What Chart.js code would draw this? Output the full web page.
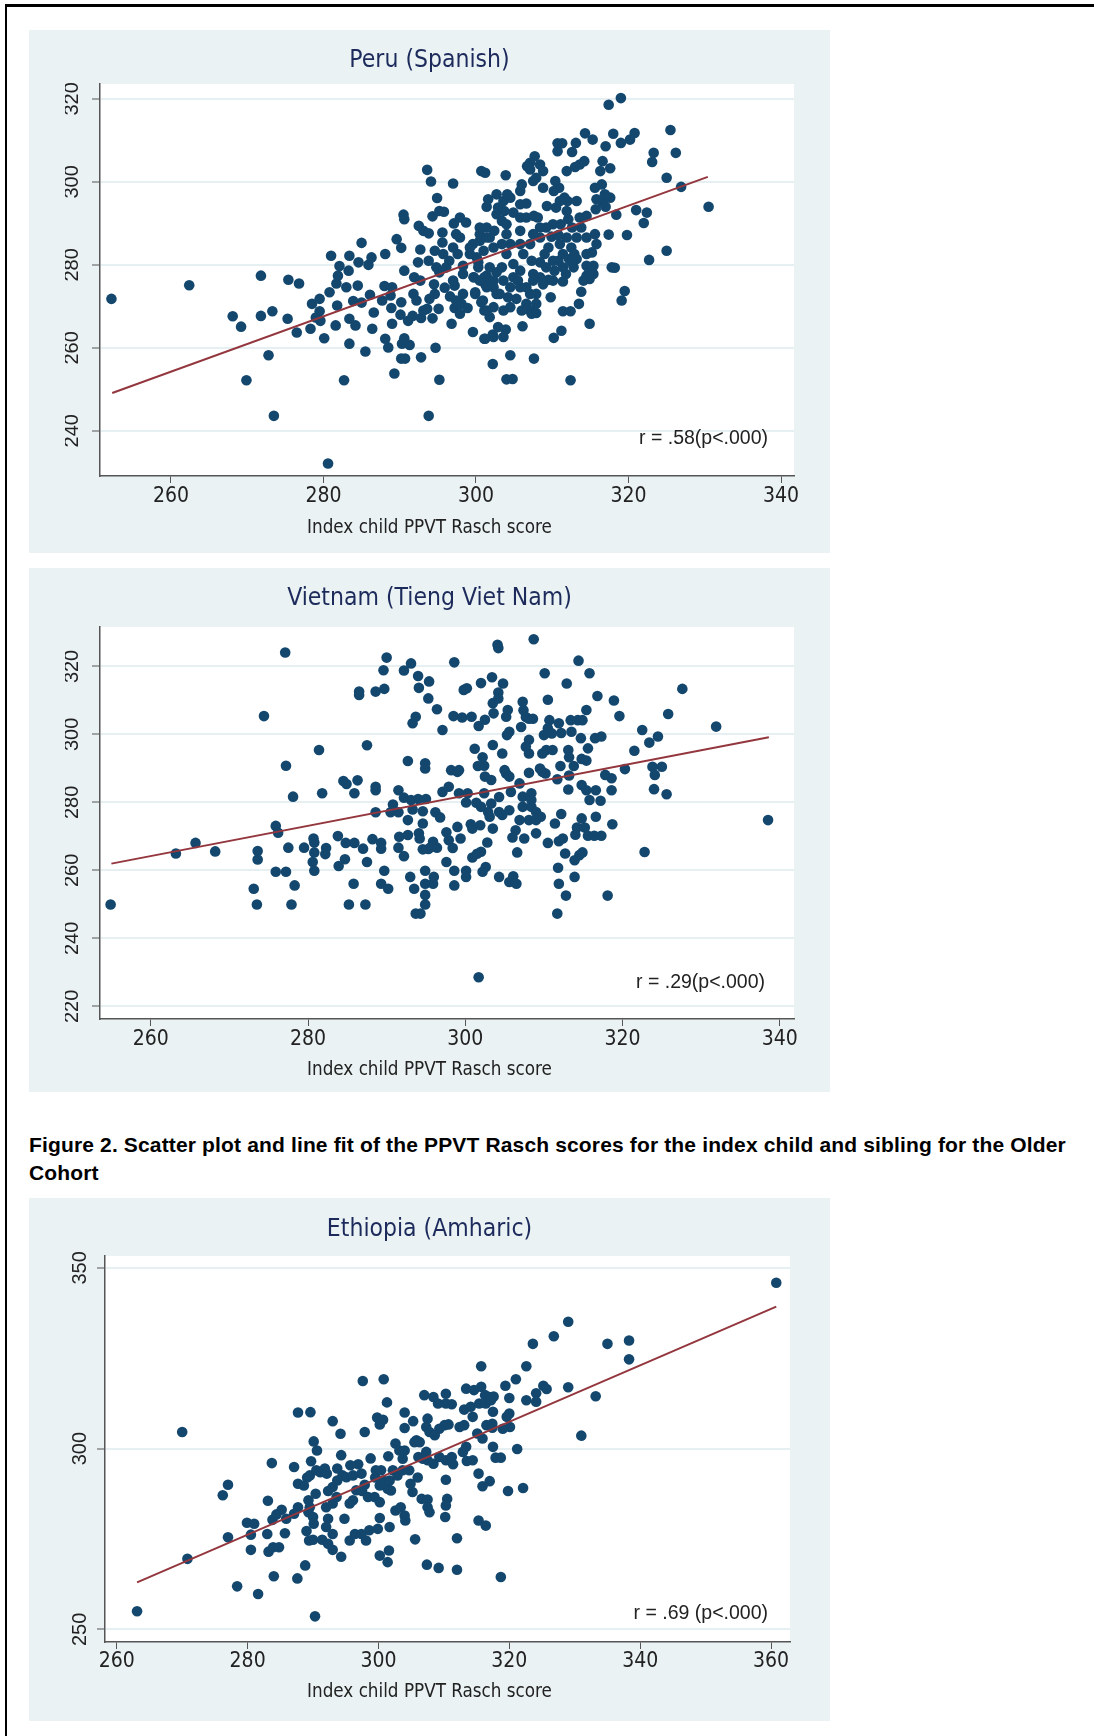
<!DOCTYPE html>
<html>
<head>
<meta charset="utf-8">
<script src="https://cdn.jsdelivr.net/npm/chart.js@4.4.1/dist/chart.umd.min.js"></script>
<style>
  html, body { margin: 0; padding: 0; background: #fff; }
  body { width: 1094px; height: 1736px; position: relative; overflow: hidden; }
  .rule-top { position: absolute; left: 5px; top: 4px; width: 1089px; height: 3px; background: #000; }
  .rule-left { position: absolute; left: 5px; top: 4px; width: 2px; height: 1732px; background: #000; }
  .panel { position: absolute; left: 29px; width: 801px; background: #eaf2f3; }
  .caption { position: absolute; left: 29px; top: 1131px; font: bold 21px/28px "Liberation Sans", Arial, sans-serif; letter-spacing: 0.15px; color: #000; white-space: nowrap; }
</style>
</head>
<body>
<div class="rule-top"></div>
<div class="rule-left"></div>
<div class="panel" style="top:30px;height:523px"><canvas id="peru"></canvas></div>
<div class="panel" style="top:568px;height:524px"><canvas id="vietnam"></canvas></div>
<div class="caption">Figure 2. Scatter plot and line fit of the PPVT Rasch scores for the index child and sibling for the Older<br>Cohort</div>
<div class="panel" style="top:1198px;height:523px"><canvas id="ethiopia"></canvas></div>
<script>
// [index child score, sibling score]
const peruPoints = [
  [252.2,271.8],[262.4,275.1],[271.8,277.4],[275.4,276.4],[276.8,275.5],[268.1,267.6],[269.2,265.1],[271.8,267.7],[273.3,268.8],[275.3,267.0],
  [276.5,263.7],[272.8,258.2],[269.9,252.2],[273.5,243.6],[280.6,232.1],[282.7,252.2],[280.1,262.3],[278.3,264.6],[278.5,270.6],[279.5,271.8],
  [279.5,268.8],[279.0,267.3],[279.6,266.5],[280.8,273.4],[281.0,282.2],[281.8,270.2],[281.6,265.4],[281.7,275.5],[281.9,277.4],[282.1,279.7],
  [283.0,274.6],[283.3,278.6],[283.4,282.2],[283.4,267.0],[283.4,261.0],[284.2,265.4],[284.5,275.0],[283.9,271.3],[284.6,280.6],[285.0,285.3],
  [285.0,270.9],[285.5,259.1],[285.9,280.0],[286.3,281.8],[286.1,272.8],[286.6,268.5],[286.4,264.6],[288.1,282.6],[287.7,271.4],[288.0,274.9],
  [288.8,272.6],[288.9,269.6],[289.0,274.6],[289.0,265.8],[288.1,262.2],[288.5,260.1],[289.3,253.8],[289.6,286.2],[290.2,284.1],[290.5,292.1],
  [290.6,291.0],[290.6,278.6],[290.2,271.0],[290.1,268.0],[290.3,261.0],[290.2,257.4],[290.7,257.4],[290.6,262.3],[291.3,260.7],[291.1,266.5],
  [291.7,267.7],[291.8,273.0],[291.9,277.0],[292.2,271.4],[292.4,280.6],[292.5,289.4],[292.7,283.7],[292.7,276.2],[293.1,288.2],[292.8,257.7],
  [292.8,267.2],[293.1,269.0],[293.6,269.4],[293.6,302.9],[294.1,300.1],[293.8,243.6],[293.9,271.8],[293.8,281.0],[293.8,287.6],[294.3,291.7],
  [294.6,283.4],[294.3,267.1],[294.7,260.0],[294.9,296.1],[295.2,293.0],[295.2,252.3],[295.1,269.4],[294.5,275.3],[295.2,278.2],[295.8,292.8],
  [295.6,287.8],[295.6,285.4],[295.9,274.5],[296.6,272.4],[296.8,265.8],[297.0,299.6],[297.1,290.0],[297.2,275.0],[297.2,269.6],[296.5,281.0],
  [297.4,287.4],[297.0,284.2],[297.6,282.6],[297.9,291.4],[298.1,270.6],[298.7,290.2],[298.3,277.8],[298.9,269.6],[299.6,263.8],[299.6,285.0],
  [299.7,277.0],[299.9,273.4],[300.3,280.6],[300.5,289.0],[300.7,302.6],[301.2,302.2],[300.9,271.4],[301.1,262.2],[301.4,294.0],[301.6,295.8],
  [301.1,269.0],[302.2,256.1],[302.2,263.2],[301.8,267.4],[301.1,277.0],[302.4,288.2],[300.5,287.4],[301.4,289.0],[301.8,286.6],[302.3,284.2],
  [300.1,281.8],[301.0,283.4],[300.3,279.4],[301.4,277.4],[302.7,278.2],[301.2,275.4],[302.3,274.6],[299.9,273.0],[300.7,271.0],[301.4,269.0],
  [302.3,269.8],[302.9,265.0],[301.2,262.2],[302.3,262.6],[299.7,277.0],[299.2,284.2],[297.9,286.6],[297.0,276.2],[294.6,273.0],[298.3,273.0],
  [297.4,271.4],[297.9,268.2],[294.8,279.4],[295.7,282.6],[296.1,279.4],[298.3,279.8],[299.2,282.6],[300.5,285.8],[301.4,286.6],[302.7,292.2],
  [302.9,293.8],[302.7,297.0],[301.8,279.4],[302.3,276.2],[301.4,274.6],[302.7,273.0],[300.5,276.2],
  [317.4,318.6],[319.0,320.2],[314.3,311.7],[315.3,310.2],[318.0,311.6],[319.0,309.4],[320.2,310.2],[320.8,311.8],[325.5,312.5],[323.3,307.0],
  [323.1,304.8],[326.2,307.0],[325.0,301.0],[326.9,298.8],[330.5,294.0],[321.0,293.2],[322.4,292.6],[322.0,290.1],[319.8,287.2],[317.4,287.3],
  [325.0,283.4],[322.7,281.2],[317.8,279.4],[318.2,279.3],[319.5,273.7],[319.1,271.4],[314.9,265.8],[313.8,273.5],[312.4,252.2],[311.2,264.1],
  [310.2,262.4],[307.6,257.4],[304.5,258.2],[304.0,252.4],[304.8,252.5],[306.1,265.2],[303.6,262.6],[303.9,264.4],[304.2,272.2],[303.6,269.0],
  [307.9,273.0],[309.8,272.2],[307.1,269.0],[307.9,268.4],[306.6,270.6],[311.4,268.8],[312.4,268.8],[313.5,270.6],[314.5,277.4],[314.9,276.6],
  [315.4,279.8],[311.4,276.0],[311.8,277.8],[312.8,279.4],[312.2,281.4],[313.2,281.4],[310.3,278.6],[309.5,276.4],[308.4,277.0],[307.5,277.8],
  [306.6,274.6],[305.8,278.6],[304.9,280.2],[304.0,282.6],[306.2,282.6],[307.1,285.0],[305.8,285.0],[304.5,285.0],[308.4,286.6],[309.5,284.2],
  [311.0,285.0],[311.9,286.6],[312.5,284.2],[313.2,286.6],[314.5,286.6],[315.6,287.4],[315.8,285.0],[315.2,283.0],[313.8,289.0],[314.5,291.8],
  [312.6,289.0],[311.1,289.8],[310.1,289.8],[309.2,289.0],[308.1,291.4],[309.3,294.2],[310.5,293.8],[312.0,295.4],[313.2,295.4],[311.6,296.2],
  [310.9,298.6],[310.4,300.2],[310.2,297.8],[311.9,302.6],[313.0,303.6],[313.6,304.2],[314.2,305.0],[315.6,298.6],[315.8,295.8],[316.6,295.0],
  [317.6,296.2],[316.9,297.0],[316.5,299.4],[316.6,305.0],[317.6,303.3],[316.3,302.6],[317.0,308.6],[315.7,293.4],[318.4,292.1],[317.0,294.0],
  [310.7,309.3],[311.3,309.3],[312.6,307.2],[313.1,309.4],[310.7,307.4],[307.7,306.2],[307.1,304.6],[308.4,304.2],[308.8,302.6],[307.9,301.0],
  [307.5,300.2],[308.8,298.6],[306.0,299.4],[305.8,297.8],[307.1,303.0],[306.7,303.8],[303.9,301.6],[303.6,295.4],[304.5,296.2],[303.7,293.0],
  [304.9,292.6],[305.8,294.6],[306.6,294.8],[304.1,297.0],[303.4,290.6],[304.0,289.8],[305.8,291.4],[306.6,291.4],[307.6,291.8],[308.4,289.0],
  [307.5,287.4],[305.8,288.2],[304.0,287.4],[303.4,285.0],[313.6,291.4],[312.1,291.0],[309.0,282.6],[310.1,281.0],[308.4,280.6],[307.3,281.0],
  [303.4,279.4],[303.6,276.2],[304.9,277.0],[304.5,274.6],[303.1,273.0],[305.8,274.6],[305.5,276.2],[307.5,276.2],[307.1,273.0],[305.3,271.8],
  [304.5,269.8],[306.0,269.0],[308.8,275.3],[310.1,276.2],[315.4,277.8],[314.5,282.6],[314.5,279.8],[314.1,276.2],[314.9,278.6],[307.3,268.2],
  [307.9,270.6],[309.2,279.4],[311.4,279.4],[310.8,281.0],[312.5,280.6],[311.4,282.6],[312.9,282.6],[309.9,286.8],[310.8,287.2],[311.0,295.4],
  [311.9,293.0]
];
const peruFit = [[252.3, 249.1], [330.4, 301.2]];
const peruXTicks = [260, 280, 300, 320, 340];
const peruYTicks = [240, 260, 280, 300, 320];

const vietnamPoints = [
  [254.9,250.0],[263.2,265.0],[265.7,268.1],[268.2,265.6],[274.4,305.4],[277.1,324.1],[273.6,265.7],[273.6,263.2],[273.1,254.6],[273.5,250.0],
  [275.9,273.1],[276.2,271.1],[275.9,259.6],[277.2,259.6],[277.5,266.7],[277.2,290.8],[278.1,281.7],[278.3,255.6],[277.9,250.0],[279.5,266.7],
  [280.7,269.4],[280.8,268.2],[280.8,265.3],[280.6,262.5],[280.8,259.9],[281.4,295.4],[281.8,282.7],[282.3,266.6],[282.2,264.8],[283.8,270.1],
  [283.9,261.3],[284.5,286.3],[284.9,285.4],[284.7,263.3],[284.8,268.1],[285.9,268.1],[286.3,286.5],[285.9,282.7],[285.8,256.1],[285.2,250.0],
  [286.5,312.6],[286.5,311.6],[287.5,296.8],[287.0,266.4],[287.5,262.5],[287.3,250.0],[288.2,269.2],[288.6,312.6],[288.6,284.6],[288.6,283.6],
  [288.6,277.1],[289.3,268.1],[289.3,266.4],[289.7,259.9],[289.3,256.1],[290.2,254.6],[289.7,313.4],[289.6,318.9],[290.0,322.6],[290.5,277.1],
  [290.8,279.4],[291.5,283.6],[291.5,277.1],[291.6,269.9],[291.5,266.7],[292.2,318.8],[293.1,320.9],[292.2,281.4],[292.7,274.8],[292.7,270.4],
  [292.7,292.2],[292.2,264.2],[293.1,280.7],[293.3,277.9],[293.0,258.1],[293.5,254.6],[293.7,247.3],[294.3,247.3],[293.3,303.3],[293.7,305.2],
  [294.0,317.2],[294.1,313.7],[294.6,277.4],[294.6,273.8],[294.1,270.9],[294.2,269.4],[294.9,291.5],[294.9,290.0],[294.0,281.0],[295.0,281.0],
  [294.9,259.9],[294.9,256.1],[294.9,252.8],[294.9,250.0],[295.4,315.6],[295.3,310.6],[295.3,266.3],[295.9,268.4],[295.9,256.1],[296.0,258.1],
  [296.4,266.7],[296.2,277.1],[296.8,275.6],[296.4,307.4],[297.1,301.3],[297.1,283.1],[297.6,271.2],[297.9,268.9],[297.6,262.5],[297.9,284.6],
  [298.2,289.5],[298.5,305.4],[298.6,321.2],[298.6,259.9],[298.6,255.6],[298.4,266.6],[299.0,289.0],[299.2,289.5],[299.0,272.8],[299.4,269.4],
  [299.2,282.7],[299.6,305.0],[299.8,313.1],[300.2,313.6],[300.1,280.0],[300.1,259.9],[300.1,258.1],[300.3,282.7],[300.7,273.6],[300.9,272.3],
  [300.8,305.2],[301.2,295.8],[300.9,263.8],[301.7,302.5],[301.6,290.7],[301.4,279.9],[302.0,315.1],[302.0,265.5],[302.2,293.3],[302.4,290.8],
  [302.5,304.3],[302.8,268.2],[302.6,261.0],[302.2,259.6],[302.5,287.6],[302.4,282.7],[301.9,273.3],[303.4,316.8],[303.5,309.2],[302.9,277.2],
  [303.5,296.9],[303.3,286.6],[303.3,279.7],[303.1,275.8],[303.5,272.3],[304.1,326.4],[304.2,325.4],[301.7,228.6],[302.0,278.7],[295.6,266.8],
  [294.6,266.2],[301.5,264.9],[303.6,306.2],[304.2,312.3],[304.2,310.6],
  [308.7,328.0],[314.4,321.7],[315.8,318.0],[310.1,318.0],[312.9,315.0],[316.8,311.3],[318.9,310.0],[319.6,305.4],[327.6,313.4],[325.8,306.0],
  [331.9,302.3],[322.5,301.3],[323.4,297.6],[324.5,299.4],[321.5,295.2],[320.3,289.8],[323.8,290.5],[325.0,290.5],[324.1,288.1],[324.0,283.9],
  [325.6,282.4],[338.5,274.8],[322.8,265.4],[318.1,252.6],[311.7,247.3],[312.8,252.6],[311.9,256.1],[311.8,260.8],[313.9,258.1],[312.7,265.0],
  [313.9,263.0],[314.5,264.5],[314.9,265.3],[310.5,268.1],[311.9,268.6],[312.4,269.4],[314.0,270.5],[315.6,270.2],[316.4,270.2],[317.3,270.2],
  [318.7,273.6],[316.6,275.8],[314.8,275.3],[314.2,272.6],[315.2,272.6],[312.2,276.6],[311.4,273.8],[317.2,280.5],[315.8,280.7],[315.4,283.6],
  [316.6,283.6],[318.6,283.6],[318.6,287.1],[317.8,288.1],[314.8,285.1],[313.1,283.8],[313.2,287.9],[313.8,290.7],[312.1,290.7],[311.7,286.8],
  [314.8,292.8],[315.4,292.3],[313.1,295.4],[313.2,293.3],[315.6,295.9],[314.7,298.9],[316.5,298.9],[317.3,299.4],[313.5,300.8],[313.4,304.2],
  [314.3,304.2],[314.9,304.2],[315.4,307.2],[310.5,310.2],[311.9,303.3],[312.2,300.4],[310.7,304.2],[310.5,301.8],[310.0,299.8],[311.0,300.3],
  [310.3,295.4],[311.1,295.4],[309.8,294.4],[309.8,289.0],[310.2,288.5],[309.5,290.0],[308.1,288.7],[306.9,285.6],[305.6,287.6],[305.2,288.5],
  [305.0,289.5],[305.8,283.1],[307.3,281.7],[308.4,282.7],[308.4,280.7],[308.4,278.7],[309.0,277.2],[309.6,275.8],[308.1,274.8],[309.0,274.8],
  [306.9,274.8],[307.3,278.7],[305.6,277.7],[304.7,276.3],[304.3,277.2],[304.3,281.6],[306.4,271.8],[306.0,269.7],[307.5,269.4],[309.0,270.9],
  [306.6,265.3],[305.6,256.6],[306.5,256.1],[306.1,258.3],[304.3,258.1],[307.3,309.6],[307.4,307.1],[307.7,305.1],[308.1,304.6],[308.6,304.6],
  [307.1,302.2],[308.1,298.4],[307.7,296.4],[308.1,294.4],[305.4,307.2],[305.2,305.2],[305.6,300.8],[305.3,299.8],[304.7,294.4],[304.8,315.0]
];
const vietnamFit = [[255.0, 262.0], [338.6, 299.2]];
const vietnamXTicks = [260, 280, 300, 320, 340];
const vietnamYTicks = [220, 240, 260, 280, 300, 320];

const ethiopiaPoints = [
  [263.1,255.0],[270.0,304.6],[270.8,269.5],[276.2,287.1],[277.0,290.0],[277.0,275.5],[278.4,261.9],[281.6,259.8],[279.9,279.5],[281.0,279.2],
  [280.5,276.2],[280.5,272.0],[283.1,285.6],[283.7,296.0],[283.0,276.4],[283.2,271.5],[283.9,272.7],[284.8,272.7],[284.0,264.7],[283.8,280.3],
  [284.4,281.8],[285.2,283.1],[285.7,276.6],[285.9,280.6],[287.1,294.9],[287.7,310.0],[289.6,310.1],[287.6,264.1],[288.8,267.7],[287.7,283.8],
  [287.1,282.0],[287.7,290.3],[288.6,289.8],[289.1,292.0],[289.5,292.6],[289.7,296.5],[290.1,302.0],[290.6,299.5],[289.3,285.7],[289.5,283.8],
  [289.3,282.4],[290.0,281.1],[290.1,279.2],[289.0,277.2],[289.4,274.6],[290.0,274.8],[290.3,253.6],[290.5,294.0],[291.1,293.5],[291.8,294.5],
  [292.1,293.1],[290.4,287.5],[291.4,274.8],[292.3,273.7],[293.0,272.0],[294.3,270.1],[293.0,307.6],[294.2,304.1],[294.3,298.2],[293.7,294.5],
  [292.3,288.3],[293.0,289.4],[293.7,291.2],[294.5,292.6],[292.0,283.8],[292.3,280.6],[292.0,278.3],[293.0,276.4],[293.0,284.8],[293.6,286.6],
  [294.8,280.6],[295.6,284.8],[296.1,285.7],[295.6,274.6],[295.7,295.4],[296.9,295.7],[295.1,292.1],[296.1,292.6],[297.4,293.1],[297.9,290.0],
  [296.6,288.5],[297.5,288.3],[296.4,276.4],[297.4,276.4],[298.1,274.6],[297.6,318.7],[297.9,304.6],[298.8,297.3],[298.4,286.6],[299.4,286.6],
  [300.2,285.2],[298.6,277.4],[299.9,277.8],[299.5,292.0],[300.2,289.8],[300.4,294.0],[299.6,294.0],[300.8,319.2],[301.3,312.8],[299.8,308.6],
  [300.7,308.0],[300.2,306.7],[301.5,297.9],[300.2,280.8],[301.7,278.3],[301.4,288.9],[300.7,291.2],[301.7,291.2],[301.9,288.4],[300.2,270.4],
  [301.4,268.6],[301.6,271.8],[302.2,294.0],[302.9,292.6],[303.7,294.0],[304.7,294.0],[302.6,301.4],[303.2,299.5],[304.0,299.5],[303.7,297.2],
  [304.0,310.0],[304.0,305.7],[305.3,307.6],[304.9,290.3],[305.2,288.0],[306.0,292.0],[302.6,282.9],[303.4,283.8],[304.0,281.5],[304.1,280.1],
  [305.6,274.9],[305.8,302.3],[305.5,301.8],[306.3,301.8],[306.1,297.7],[306.8,297.2],[307.3,299.1],[307.5,296.8],[308.4,295.8],[307.0,314.8],
  [308.4,314.3],[307.5,308.3],[307.3,306.0],[307.8,304.6],[308.6,303.7],[306.6,286.1],[307.5,285.9],[307.5,283.8],[307.8,282.4],[307.4,267.9],
  [309.2,267.0],[309.1,312.5],[310.3,312.5],[311.2,312.3],[310.3,315.2],[309.3,305.5],[310.1,306.5],[310.7,306.7],[309.3,297.7],[310.3,296.8],
  [311.4,295.7],[311.2,297.7],[310.3,291.4],[310.5,286.1],[310.3,284.3],[310.2,281.1],[312.0,275.2],[312.0,266.5],[312.4,306.0],[313.1,306.5],
  [313.4,300.5],[312.9,299.1],[313.5,296.6],[314.4,296.8],[313.4,316.6],[314.6,316.2],[315.7,317.1],[315.7,322.8],[313.1,310.8],[314.1,311.6],
  [314.4,308.8],[315.1,304.2],[315.9,302.8],[316.5,306.5],[317.4,306.9],[315.4,312.5],[316.3,314.8],[316.9,314.3],[316.4,312.5],[315.3,293.1],
  [315.9,289.6],[317.0,291.0],[315.3,280.1],[316.4,278.7],[317.5,310.2],[317.5,300.5],[317.9,297.5],[317.2,313.4],[317.6,314.4],[317.4,305.8],
  [360.8,345.9],[329.0,335.1],[326.8,331.1],[323.6,329.0],[335.0,329.0],[338.3,329.9],[338.3,324.7],[322.6,322.8],[321.0,319.2],[319.4,317.4],
  [329.0,317.0],[333.2,314.5],[331.0,303.6],[325.2,317.4],[325.7,316.5],[324.1,315.3],[324.1,313.0],[322.6,313.4],[320.0,314.0],[320.0,309.7],
  [319.6,308.8],[320.1,306.0],[319.0,305.5],[321.2,299.9],[318.7,297.5],[319.8,288.3],[322.1,289.1],[318.7,264.5]
];
const ethiopiaFit = [[263.1, 263.0], [360.8, 339.3]];
const ethiopiaXTicks = [260, 280, 300, 320, 340, 360];
const ethiopiaYTicks = [250, 300, 350];

const xAxisTitle = 'Index child PPVT Rasch score';

const narrow = '"Liberation Sans Narrow", "DejaVu Sans Condensed", "Arial Narrow", sans-serif';
const plain = '"Liberation Sans", Arial, sans-serif';
const titleSize = 24.5;
const tickSize = 21;
const axisTitleSize = 18.7;
const yTickSize = 20;

// white plot region on the light blue graph region
const plotBg = {
  id: 'plotBg',
  beforeDraw(chart) {
    const { ctx, chartArea: a } = chart;
    ctx.save();
    ctx.fillStyle = '#fff';
    ctx.fillRect(a.left, a.top, a.right - a.left, a.bottom - a.top);
    ctx.restore();
  }
};

// correlation note in the lower right corner
const note = {
  id: 'note',
  afterDatasetsDraw(chart, args, opts) {
    const { ctx, chartArea: a } = chart;
    ctx.save();
    ctx.font = '19.5px ' + plain;
    ctx.fillStyle = '#222';
    ctx.textAlign = 'right';
    ctx.textBaseline = 'middle';
    ctx.fillText(opts.text, a.right - opts.dx, a.bottom - opts.dy);
    ctx.restore();
  }
};

function drawPanel(id, p) {
  const th = titleSize * 1.2;
  const lh = tickSize * 1.2;
  const ah = axisTitleSize * 1.2;
  // x title sits in a bottom subtitle box so it centres on the whole graph region
  const subPadBottom = p.height - p.axisTitleY - ah / 2;
  const xAxisHeight = p.axisTitleY - ah / 2 - p.plotBottom;
  new Chart(document.getElementById(id), {
    type: 'scatter',
    data: {
      datasets: [
        {
          data: p.fit.map(([x, y]) => ({ x, y })),
          showLine: true,
          borderColor: '#93363d',
          borderWidth: 2,
          pointRadius: 0,
          order: 0
        },
        {
          data: p.points.map(([x, y]) => ({ x, y })),
          backgroundColor: '#14476e',
          borderWidth: 0,
          pointRadius: 5.3,
          order: 1
        }
      ]
    },
    plugins: [plotBg, note],
    options: {
      animation: false,
      responsive: true,
      maintainAspectRatio: false,
      layout: { padding: { left: p.side, right: p.side, top: 0, bottom: 0 }, autoPadding: false },
      plugins: {
        legend: { display: false },
        tooltip: { enabled: false },
        title: {
          display: true,
          text: p.title,
          color: '#1d2b5c',
          font: { family: narrow, size: titleSize, weight: 'normal', lineHeight: 1.2 },
          padding: { top: p.titleY - th / 2, bottom: p.plotTop - p.titleY - th / 2 }
        },
        subtitle: {
          display: true,
          position: 'bottom',
          text: xAxisTitle,
          color: '#222',
          font: { family: narrow, size: axisTitleSize, lineHeight: 1.2 },
          padding: { top: 0, bottom: subPadBottom }
        },
        note: { text: p.note, dx: p.noteDx, dy: p.noteDy }
      },
      scales: {
        x: {
          type: 'linear',
          min: p.xMin,
          max: p.xMax,
          afterBuildTicks: s => { s.ticks = p.xTicks.map(v => ({ value: v })); },
          afterFit: s => { s.height = xAxisHeight; },
          grid: { drawOnChartArea: false, tickLength: 7, tickColor: '#555', tickWidth: 1 },
          border: { color: '#555', width: 1.5 },
          ticks: { color: '#222', padding: p.tickGap - 7 - lh / 2, font: { family: narrow, size: tickSize } }
        },
        y: {
          type: 'linear',
          min: p.yMin,
          max: p.yMax,
          afterBuildTicks: s => { s.ticks = p.yTicks.map(v => ({ value: v })); },
          afterFit: s => { s.width = p.plotLeft - p.side; },
          grid: { color: '#e6eff1', lineWidth: 2, tickLength: 8, tickColor: '#555', tickWidth: 1 },
          border: { color: '#555', width: 1.5 },
          ticks: {
            color: '#222',
            minRotation: 90,
            maxRotation: 90,
            crossAlign: 'center',
            padding: p.yLabelGap - 8 - 0.834 * yTickSize,
            font: { family: plain, size: yTickSize }
          }
        }
      }
    }
  });
}

drawPanel('peru', {
  title: 'Peru (Spanish)', note: 'r = .58(p<.000)',
  points: peruPoints, fit: peruFit, xTicks: peruXTicks, yTicks: peruYTicks,
  xMin: 250.7, xMax: 341.7, yMin: 229.1, yMax: 323.6,
  height: 523, side: 36, plotLeft: 71, plotTop: 54, plotBottom: 446,
  titleY: 31, tickGap: 21, axisTitleY: 498, yLabelGap: 28, noteDx: 26, noteDy: 37
});

drawPanel('vietnam', {
  title: 'Vietnam (Tieng Viet Nam)', note: 'r = .29(p<.000)',
  points: vietnamPoints, fit: vietnamFit, xTicks: vietnamXTicks, yTicks: vietnamYTicks,
  xMin: 253.55, xMax: 341.8, yMin: 216.3, yMax: 331.6,
  height: 524, side: 36, plotLeft: 71, plotTop: 59, plotBottom: 451,
  titleY: 31, tickGap: 21, axisTitleY: 502, yLabelGap: 28, noteDx: 29, noteDy: 36
});

drawPanel('ethiopia', {
  title: 'Ethiopia (Amharic)', note: 'r = .69 (p<.000)',
  points: ethiopiaPoints, fit: ethiopiaFit, xTicks: ethiopiaXTicks, yTicks: ethiopiaYTicks,
  xMin: 258.2, xMax: 362.9, yMin: 246.5, yMax: 353.3,
  height: 523, side: 40, plotLeft: 76, plotTop: 58, plotBottom: 444,
  titleY: 32, tickGap: 20, axisTitleY: 494.5, yLabelGap: 25, noteDx: 22, noteDy: 28
});
</script>
</body>
</html>
